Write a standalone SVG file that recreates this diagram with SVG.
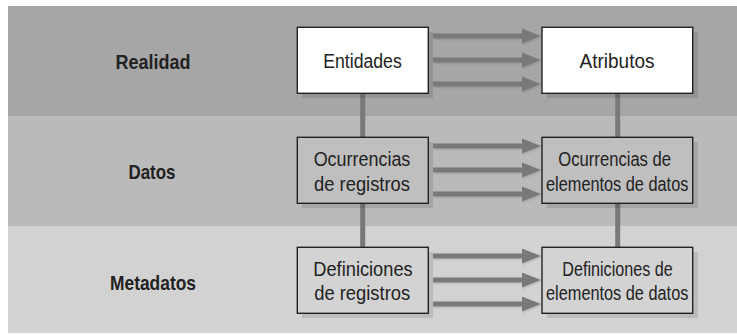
<svg xmlns="http://www.w3.org/2000/svg" width="737" height="334" viewBox="0 0 737 334">
<style>
.band1{fill:#a6a6a6}.band2{fill:#bababa}.band3{fill:#d2d2d2}
.box{stroke:#222;stroke-width:1.4}
.b1{fill:#ffffff}.b2{fill:#bfbfbf}.b3{fill:#d3d3d3}
.sh{fill:#000;fill-opacity:0.11}
.t{font-family:"Liberation Sans",Arial,sans-serif;font-size:20px;fill:#222;text-anchor:middle}
.lab{font-family:"Liberation Sans",Arial,sans-serif;font-size:21px;font-weight:bold;fill:#222;text-anchor:middle}
.arr{fill:#797979}
.ash{fill:#000;fill-opacity:0.07}
.vl{stroke:#797979;stroke-width:5}
</style>
<defs>
<path id="a" d="M433,-2.5 H522 V-7.5 L541,0 L522,7.5 V2.5 H433 Z"/>
</defs>
<g id="bands">
<rect class="band1" x="8" y="6" width="729" height="110"/>
<rect class="band2" x="8" y="116" width="729" height="110"/>
<rect class="band3" x="8" y="226" width="729" height="107"/>
<text class="lab" x="153" y="68.5" textLength="75" lengthAdjust="spacingAndGlyphs">Realidad</text>
<text class="lab" x="152" y="179" textLength="47" lengthAdjust="spacingAndGlyphs">Datos</text>
<text class="lab" x="153" y="289.5" textLength="86" lengthAdjust="spacingAndGlyphs">Metadatos</text>
</g>
<g id="connectors">
<line class="vl" x1="362.7" y1="93" x2="362.7" y2="137"/>
<line class="vl" x1="617.7" y1="93" x2="617.7" y2="137"/>
<line class="vl" x1="362.7" y1="203" x2="362.7" y2="247"/>
<line class="vl" x1="617.7" y1="203" x2="617.7" y2="247"/>
<g class="ash">
<use href="#a" x="1" y="38"/><use href="#a" x="1" y="62"/><use href="#a" x="1" y="86"/>
<use href="#a" x="1" y="148"/><use href="#a" x="1" y="172"/><use href="#a" x="1" y="196"/>
<use href="#a" x="1" y="258"/><use href="#a" x="1" y="282"/><use href="#a" x="1" y="306"/>
</g>
<g class="arr">
<use href="#a" y="36"/><use href="#a" y="60"/><use href="#a" y="84"/>
<use href="#a" y="146"/><use href="#a" y="170"/><use href="#a" y="194"/>
<use href="#a" y="256"/><use href="#a" y="280"/><use href="#a" y="304"/>
</g>
</g>
<g id="entidades">
<rect class="sh" x="302" y="32" width="131" height="66"/>
<rect class="box b1" x="297.3" y="27.3" width="131" height="66"/>
<text class="t" x="362.5" y="67.5" textLength="78.6" lengthAdjust="spacingAndGlyphs">Entidades</text>
</g>
<g id="atributos">
<rect class="sh" x="547" y="32" width="151" height="66"/>
<rect class="box b1" x="542" y="27.3" width="150.7" height="66"/>
<text class="t" x="617" y="67.5" textLength="75" lengthAdjust="spacingAndGlyphs">Atributos</text>
</g>
<g id="ocurrencias-registros">
<rect class="sh" x="302" y="142" width="131" height="66"/>
<rect class="box b2" x="297.3" y="137.3" width="131" height="66"/>
<text class="t" x="362" y="166" textLength="96.7" lengthAdjust="spacingAndGlyphs">Ocurrencias</text>
<text class="t" x="362" y="190.5" textLength="96" lengthAdjust="spacingAndGlyphs">de registros</text>
</g>
<g id="ocurrencias-elementos">
<rect class="sh" x="547" y="142" width="151" height="66"/>
<rect class="box b2" x="542" y="137.3" width="150.7" height="66"/>
<text class="t" x="614.7" y="166" textLength="112.7" lengthAdjust="spacingAndGlyphs">Ocurrencias de</text>
<text class="t" x="617.2" y="190.5" textLength="142.3" lengthAdjust="spacingAndGlyphs">elementos de datos</text>
</g>
<g id="definiciones-registros">
<rect class="sh" x="302" y="252" width="131" height="66"/>
<rect class="box b3" x="297.3" y="247.3" width="131" height="66"/>
<text class="t" x="363" y="276" textLength="99.4" lengthAdjust="spacingAndGlyphs">Definiciones</text>
<text class="t" x="362.2" y="300" textLength="96" lengthAdjust="spacingAndGlyphs">de registros</text>
</g>
<g id="definiciones-elementos">
<rect class="sh" x="547" y="252" width="151" height="66"/>
<rect class="box b3" x="542" y="247.3" width="150.7" height="66"/>
<text class="t" x="617.5" y="276" textLength="110.3" lengthAdjust="spacingAndGlyphs">Definiciones de</text>
<text class="t" x="617.2" y="300" textLength="142.3" lengthAdjust="spacingAndGlyphs">elementos de datos</text>
</g>
</svg>
